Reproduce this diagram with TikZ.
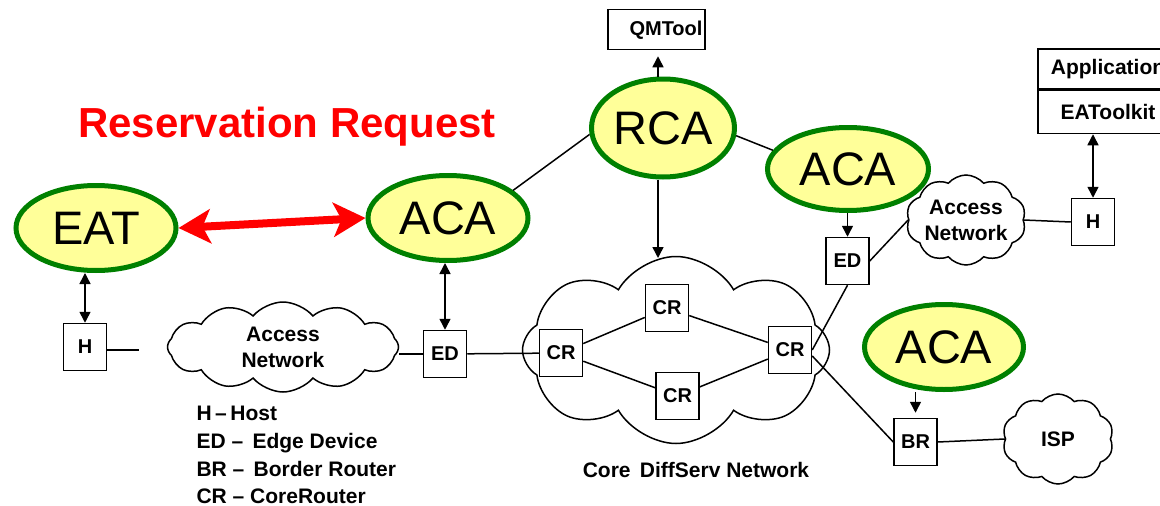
\documentclass[tikz,border=0pt]{standalone}
\usepackage{fontspec}
\setmainfont{Liberation Sans}
\usetikzlibrary{shapes.geometric,shapes.symbols,arrows.meta}
\definecolor{agreen}{RGB}{0,128,0}
\definecolor{ayellow}{RGB}{255,255,153}
\begin{document}
\begin{tikzpicture}[x=1pt,y=-1pt,
  agent/.style={ellipse, draw=agreen, line width=5pt, fill=ayellow, inner sep=0pt, font=\fontsize{47}{50}\selectfont},
  dev/.style={draw, line width=1.5pt, fill=white, inner sep=0pt, minimum width=43pt, minimum height=47pt, font=\bfseries\fontsize{20}{22}\selectfont},
  net/.style={cloud, draw, line width=1.5pt, cloud ignores aspect, inner sep=0pt, font=\bfseries\fontsize{21}{26}\selectfont, align=center},
  link/.style={line width=1.5pt},
  arr/.style={link, -{Triangle[length=11pt,width=11pt]}},
  darr/.style={link, {Triangle[length=11pt,width=11pt]}-{Triangle[length=11pt,width=11pt]}},
  txt/.style={font=\bfseries\fontsize{21}{28}\selectfont},
  redarr/.style={red, line width=8pt, {Stealth[length=32pt,width=34pt,inset=8pt]}-{Stealth[length=32pt,width=34pt,inset=8pt]}}
]
\fill[white] (0,0) rectangle (1160,506);
\useasboundingbox (0,0) rectangle (1160,506);

% title
\node[anchor=base, text=red, font=\bfseries\fontsize{42}{48}\selectfont] (title) at (287,137) {Reservation Request};

% clouds
\node[net, minimum width=231pt, minimum height=90pt, cloud puffs=12, cloud puff arc=100] (anl) at (283,347) {Access\\Network};
\node[net, minimum width=113pt, minimum height=90pt, cloud puffs=10, cloud puff arc=100] (anr) at (966,220) {Access\\Network};
\node[net, minimum width=111pt, minimum height=90pt, cloud puffs=10, cloud puff arc=100] (isp) at (1058,439) {ISP};
\node[net, minimum width=307pt, minimum height=187pt, cloud puffs=8, cloud puff arc=120] (core) at (676,350) {};
\node[txt] (corelbl) at (696,470) {Core\, DiffServ Network};

% agents
\node[agent, minimum width=160pt, minimum height=85pt] (eat) at (96,228) {EAT};
\node[agent, minimum width=160pt, minimum height=85pt] (acal) at (448,218) {ACA};
\node[agent, minimum width=143pt, minimum height=98pt] (rca) at (663,128) {RCA};
\node[agent, minimum width=161pt, minimum height=83pt] (acar) at (848,169) {ACA};
\node[agent, minimum width=159pt, minimum height=85pt] (acab) at (944,347) {ACA};

% boxes
\node[dev] (qm) at (656.5,29.5) [minimum width=97pt, minimum height=40pt] {};
\node[txt, font=\bfseries\fontsize{20}{22}\selectfont] (qmt) at (666,30) {QMTool};
\node[dev, minimum width=140pt, minimum height=40pt, font=\bfseries\fontsize{21}{24}\selectfont] (app) at (1108,69) {Application};
\node[dev, minimum width=140pt, minimum height=43pt, font=\bfseries\fontsize{21}{24}\selectfont, anchor=north] (eatk) at (app.south) {EAToolkit};
\node[dev] (hl) at (85,347) {H};
\node[dev] (edl) at (445,354) {ED};
\node[dev] (edr) at (847.5,261) {ED};
\node[dev] (crt) at (667,308) {CR};
\node[dev] (crl) at (561,353) {CR};
\node[dev] (crb) at (677.5,396) {CR};
\node[dev] (crr) at (790,350) {CR};
\node[dev] (br) at (915.5,442) {BR};
\node[dev] (hr) at (1093,222) {H};

% legend
\node[txt, anchor=base west] (lg1) at (193,420) {H\,–\,Host};
\node[txt, anchor=base west] (lg2) at (193,448) {ED – \,Edge Device};
\node[txt, anchor=base west] (lg3) at (193,476) {BR – \,Border Router};
\node[txt, anchor=base west] (lg4) at (193,503) {CR – CoreRouter};

\coordinate (hlend) at (139,350);
\coordinate (coretip) at (658,258);

% connectors
\draw[redarr] (eat.east) -- (acal.west);
\draw[darr] (eat.south -| hl.north) -- (hl.north);
\draw[link] (hl.east |- hlend) -- (hlend);
\draw[link] (anl.east |- edl.west) -- (edl.west);
\draw[link] (edl) -- (crl);
\draw[darr] (acal.south -| edl.north) -- (edl.north);
\draw[link] (acal.23) -- (rca.185);
\draw[link] (rca.-6) -- (acar.166);
\draw[arr, shorten >=6pt] (rca.north -| coretip) -- (qm.south -| coretip);
\draw[arr] (rca.south -| coretip) -- (coretip);
\draw[link] (crl) -- (crt);
\draw[link] (crt) -- (crr);
\draw[link] (crl) -- (crb);
\draw[link] (crb) -- (crr);
\draw[arr] (acar.south -| edr.north) -- (edr.north);
\draw[link] (edr.east) -- (anr.west);
\draw[link] (anr.east) -- (hr.west);
\draw[darr] (eatk.south -| hr.north) -- (hr.north);
\draw[link] (crr.east) -- (edr.south);
\draw[link] (crr.-15) -- (br.west);
\draw[arr, shorten >=5pt] (br.north |- acab.south) -- (br.north);
\draw[link] (br.east) -- (isp.west);
\end{tikzpicture}
\end{document}
